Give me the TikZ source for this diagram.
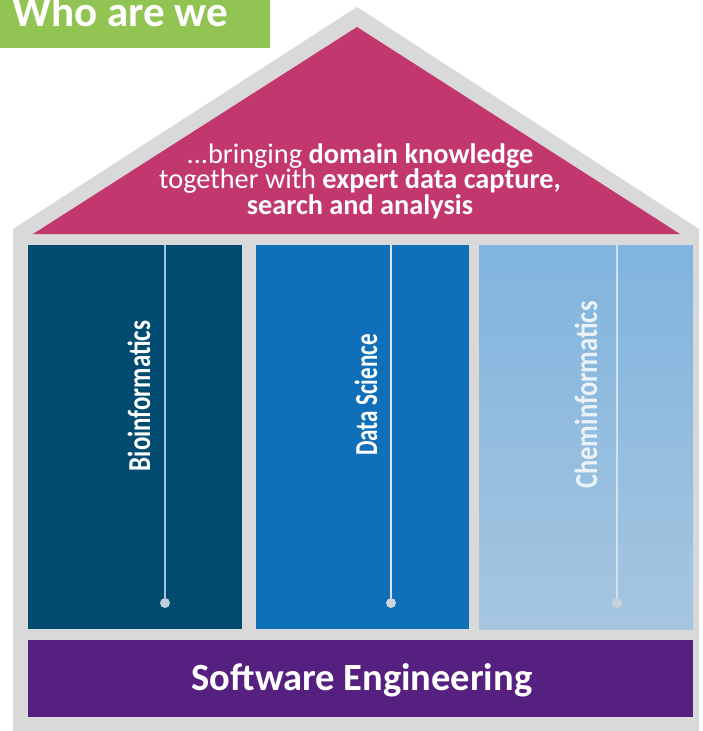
\documentclass[tikz,border=0pt]{standalone}
\usepackage{fontspec}
\usepackage{graphicx}
\setmainfont{Carlito}
\definecolor{hgray}{RGB}{217,217,217}
\definecolor{roofpink}{RGB}{194,56,110}
\definecolor{cdark}{RGB}{2,75,112}
\definecolor{cmid}{RGB}{15,111,184}
\definecolor{clighttop}{RGB}{128,180,222}
\definecolor{clightbot}{RGB}{166,198,224}
\definecolor{swpurple}{RGB}{85,32,127}
\definecolor{wgreen}{RGB}{146,196,83}
\definecolor{dotA}{RGB}{190,208,222}
\definecolor{lineA}{RGB}{160,196,222}
\definecolor{dotB}{RGB}{200,214,226}
\definecolor{lineB}{RGB}{215,230,240}
\definecolor{dotC}{RGB}{200,210,220}
\definecolor{lineC}{RGB}{210,225,238}
\definecolor{textC}{RGB}{235,242,248}
\begin{document}
\begin{tikzpicture}[x=1pt,y=-1pt,
  pillar/.style={draw=none,minimum width=214pt,minimum height=384pt,inner sep=0pt,anchor=north west},
  pillartext/.style={rotate=90,anchor=base,text=white,font=\fontsize{32}{36}\selectfont\bfseries,inner sep=0pt},
  pinline/.style={line width=1.6pt},
  pindot/.style={circle,inner sep=0pt,minimum size=10pt}]
\useasboundingbox (0,0) rectangle (703,731);
\clip (0,0) rectangle (703,731);
% header
\node[fill=wgreen,minimum width=270pt,minimum height=48pt,inner sep=0pt,anchor=north west] (hdr) at (0,0) {};
\node[anchor=base west,inner sep=0pt,text=white,font=\fontsize{43}{48}\selectfont\bfseries] (hdrtext) at (12,26) {Who are we};
% house outline
\fill[hgray] (13,735) -- (13,229) -- (357,7) -- (699,229) -- (699,735) -- cycle;
% roof
\fill[roofpink] (33,234) -- (357,27) -- (680,234) -- cycle;
\node[align=center,text=white,font=\fontsize{28.3}{25.5}\selectfont,inner sep=0pt] (rooftext) at (360,181)
  {...bringing \textbf{domain knowledge}\\together with \textbf{expert data capture,}\\\textbf{search and analysis}};
% pillars
\node[pillar,fill=cdark] (p1) at (28,245) {};
\node[pillar,fill=cmid,minimum width=213pt] (p2) at (256,245) {};
\node[pillar,top color=clighttop,bottom color=clightbot,minimum width=214pt] (p3) at (479,245) {};
% lines and dots
\coordinate (l1t) at (165,245);
\node[pindot,fill=dotA] (d1) at (165,603) {};
\draw[pinline,lineA] (l1t) -- (d1);
\coordinate (l2t) at (391,245);
\node[pindot,fill=dotB] (d2) at (391,603) {};
\draw[pinline,lineB] (l2t) -- (d2);
\coordinate (l3t) at (617,245);
\node[pindot,fill=dotC] (d3) at (617,603) {};
\draw[pinline,lineC] (l3t) -- (d3);
% pillar labels
\node[pillartext] (t1) at (150,396) {\scalebox{0.78}[1]{Bioinformatics}};
\node[pillartext] (t2) at (377,395) {\scalebox{0.72}[1]{Data Science}};
\node[pillartext,text=textC] (t3) at (597,395) {\scalebox{0.83}[1]{Cheminformatics}};
% base
\node[fill=swpurple,minimum width=665pt,minimum height=77pt,inner sep=0pt,anchor=north west] (base) at (28,640) {};
\node[anchor=base,inner sep=0pt,text=white,font=\fontsize{38.5}{42}\selectfont\bfseries] (basetext) at (362,690) {Software Engineering};
\end{tikzpicture}
\end{document}
